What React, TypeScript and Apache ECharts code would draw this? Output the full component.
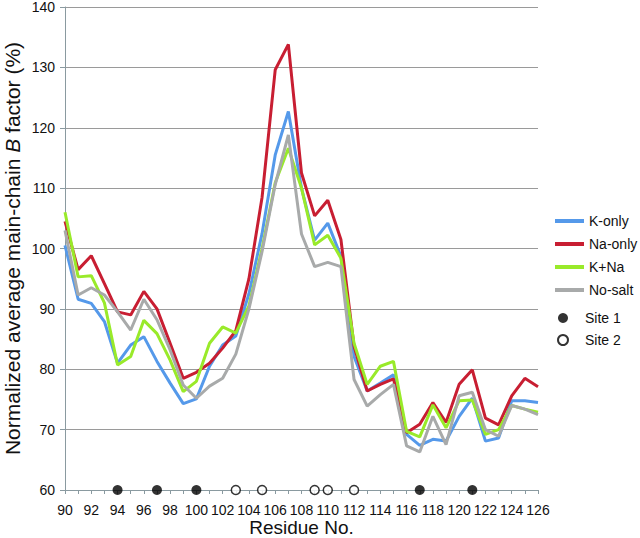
import React, { useEffect, useRef } from "react";
import * as echarts from "echarts";

const residues = [90, 91, 92, 93, 94, 95, 96, 97, 98, 99, 100, 101, 102, 103, 104, 105, 106, 107, 108, 109, 110, 111, 112, 113, 114, 115, 116, 117, 118, 119, 120, 121, 122, 123, 124, 125, 126];

const kOnly = [100.5, 91.6, 90.9, 87.9, 81, 84, 85.4, 81.3, 77.7, 74.3, 75.1, 80.5, 84, 85.5, 92.5, 102.5, 115.5, 122.7, 110, 101.4, 104.2, 98.7, 82.1, 76.4, 77.7, 79.1, 69.2, 67.4, 68.4, 68.1, 72.2, 75.2, 68.1, 68.6, 74.8, 74.8, 74.5];
const naOnly = [104.5, 96.5, 98.8, 94.2, 89.5, 89, 92.9, 90, 84.3, 78.5, 79.5, 81, 83.5, 86.4, 95, 108.5, 129.6, 133.8, 112.5, 105.4, 108, 101.5, 83.8, 76.4, 77.5, 78.4, 69.5, 70.9, 74.5, 71.2, 77.5, 79.9, 71.9, 70.8, 75.6, 78.5, 77.1];
const kNa = [106, 95.3, 95.5, 91, 80.7, 82.1, 88.1, 85.9, 81.5, 76.3, 78, 84.3, 87, 86, 90.5, 100, 110.9, 116.6, 110, 100.6, 102.2, 98.4, 84.3, 77.5, 80.5, 81.3, 69.7, 68.8, 74.1, 70.3, 74.8, 74.9, 69.2, 70, 74, 73.4, 72.9];
const noSalt = [103, 92.3, 93.5, 92.3, 89.5, 86.5, 91.6, 88.2, 83.2, 77.4, 75.2, 77.2, 78.5, 82.5, 90, 99.5, 110.6, 118.8, 102.4, 97, 97.7, 97, 78.3, 73.9, 75.8, 77.5, 67.3, 66.3, 72.2, 67.5, 75.6, 76.2, 70, 68.9, 74, 73.4, 72.5];

const site1 = [94, 97, 100, 117, 121];
const site2 = [103, 105, 109, 110, 112];
const siteLevel = 60;

const lineSeries = [
  { name: "K-only", values: kOnly, color: "#5599ea" },
  { name: "Na-only", values: naOnly, color: "#c81e32" },
  { name: "K+Na", values: kNa, color: "#99ea2a" },
  { name: "No-salt", values: noSalt, color: "#a8aaaa" },
];

export default function App() {
  const ref = useRef<HTMLDivElement>(null);
  useEffect(() => {
    if (!ref.current) return;
    const chart = echarts.init(ref.current, null, { renderer: "svg" });
    const axisColor = "#8a9aa0";
    const font = "Liberation Sans, Arial, sans-serif";
    chart.setOption({
      animation: false,
      textStyle: { fontFamily: font },
      grid: { left: 65, right: 102, top: 7, bottom: 48, containLabel: false, outerBoundsMode: "none" },
      xAxis: {
        type: "value",
        min: 90,
        max: 126,
        interval: 1,
        name: "Residue No.",
        nameLocation: "middle",
        nameGap: 28,
        nameMoveOverlap: false,
        nameTextStyle: { fontSize: 19, color: "#111", fontFamily: font },
        axisLine: { show: true, lineStyle: { color: axisColor, width: 1 } },
        axisTick: { show: true, length: 4, lineStyle: { color: axisColor } },
        axisLabel: {
          fontSize: 14,
          color: "#111",
          margin: 13,
          formatter: (v: number) => (v % 2 === 0 ? String(v) : ""),
        },
        splitLine: { show: false },
      },
      yAxis: {
        type: "value",
        min: 60,
        max: 140,
        interval: 10,
        name: "Normalized average main-chain {i|B} factor (%)",
        nameLocation: "middle",
        nameGap: 42,
        nameMoveOverlap: false,
        nameTextStyle: {
          fontSize: 21,
          color: "#111",
          fontFamily: font,
          rich: { i: { fontStyle: "italic", fontSize: 21, color: "#111", fontFamily: font } },
        },
        axisLine: { show: true, lineStyle: { color: axisColor, width: 1 } },
        axisTick: { show: true, length: 5, lineStyle: { color: axisColor } },
        axisLabel: { fontSize: 14, color: "#111", margin: 10 },
        splitLine: { show: true, lineStyle: { color: "#9a9a9a", width: 1 } },
      },
      legend: [
        {
          data: lineSeries.map((s) => s.name),
          orient: "vertical",
          left: 550,
          top: 209,
          itemWidth: 29,
          itemHeight: 4,
          itemGap: 9,
          icon: "rect",
          selectedMode: false,
          textStyle: { fontSize: 14, color: "#111", fontFamily: font },
        },
        {
          data: ["Site 1", "Site 2"],
          orient: "vertical",
          left: 552,
          top: 306,
          itemWidth: 10,
          itemHeight: 10,
          itemGap: 8,
          icon: "circle",
          selectedMode: false,
          textStyle: { fontSize: 14, color: "#111", fontFamily: font, padding: [0, 0, 0, 12] },
        },
      ],
      series: [
        ...lineSeries.map((s) => ({
          name: s.name,
          type: "line",
          data: residues.map((r, i) => [r, s.values[i]]),
          symbol: "none",
          lineStyle: { width: 3, color: s.color },
          itemStyle: { color: s.color },
        })),
        {
          name: "Site 1",
          type: "scatter",
          data: site1.map((r) => [r, siteLevel]),
          symbol: "circle",
          symbolSize: 10,
          clip: false,
          z: 10,
          itemStyle: { color: "#000" },
        },
        {
          name: "Site 2",
          type: "scatter",
          data: site2.map((r) => [r, siteLevel]),
          symbol: "circle",
          symbolSize: 9,
          clip: false,
          z: 10,
          itemStyle: { color: "#fff", borderColor: "#000", borderWidth: 1.5 },
        },
      ],
    });
    return () => chart.dispose();
  }, []);
  return (
    <div
      ref={ref}
      style={{ position: "absolute", left: 0, top: 0, width: 640, height: 538, background: "#fff" }}
    />
  );
}
